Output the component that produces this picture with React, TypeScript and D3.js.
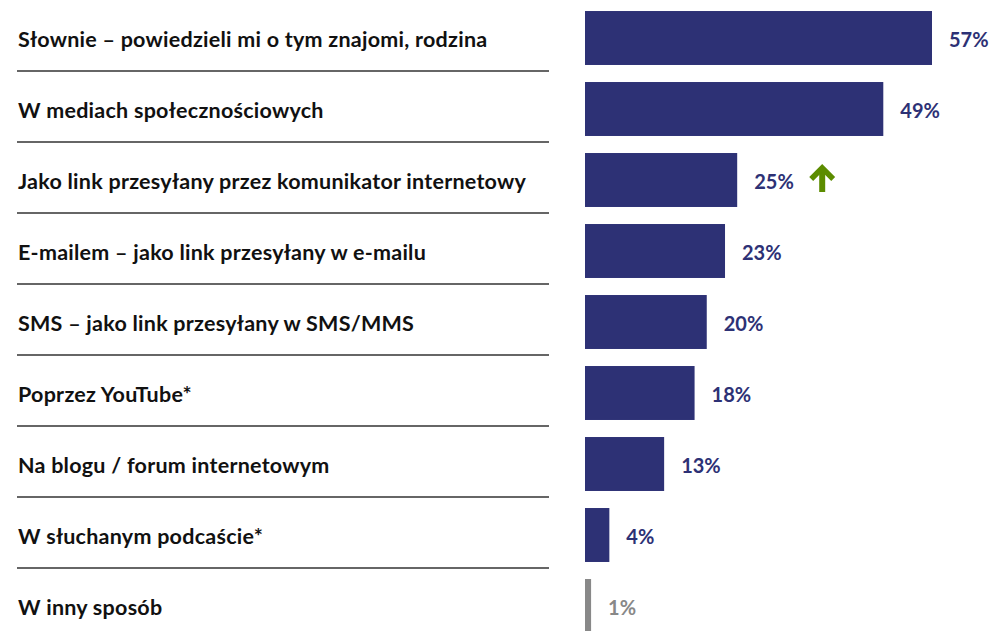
import React from "react";
import * as d3 from "d3";

const categories = [
  "Słownie – powiedzieli mi o tym znajomi, rodzina",
  "W mediach społecznościowych",
  "Jako link przesyłany przez komunikator internetowy",
  "E-mailem – jako link przesyłany w e-mailu",
  "SMS – jako link przesyłany w SMS/MMS",
  "Poprzez YouTube*",
  "Na blogu / forum internetowym",
  "W słuchanym podcaście*",
  "W inny sposób",
];
const values = [57, 49, 25, 23, 20, 18, 13, 4, 1];
const highlighted = [false, false, true, false, false, false, false, false, false];
const muted = [false, false, false, false, false, false, false, false, true];

const W = 992;
const H = 631;
const NAVY = "#2d3175";
const GRAY = "#888888";
const GREEN = "#5c8c00";
const FONT = "Lato, 'Open Sans', sans-serif";

export default function App() {
  const x = d3.scaleLinear().domain([0, 57]).range([585, 932]);
  const y = d3
    .scaleBand<string>()
    .domain(categories)
    .range([2.5, 641.5])
    .paddingInner(0.24)
    .paddingOuter(0.12);
  const bw = y.bandwidth();
  const step = y.step();

  return (
    <svg
      width={W}
      height={H}
      style={{ position: "absolute", left: 0, top: 0, background: "#fff" }}
      fontFamily={FONT}
    >
      {categories.map((c, i) => {
        const top = y(c)!;
        const cy = top + bw / 2;
        const v = values[i];
        const col = muted[i] ? GRAY : NAVY;
        const xe = x(v);
        return (
          <g key={c}>
            <text
              x={18}
              y={cy + 8.5}
              fontSize={21.5}
              letterSpacing={0.25}
              fontWeight={700}
              fill="#111"
            >
              {c}
            </text>
            {i < categories.length - 1 && (
              <line
                x1={17}
                x2={549}
                y1={cy + step / 2 - 2.5}
                y2={cy + step / 2 - 2.5}
                stroke="#333"
                strokeWidth={1.5}
              />
            )}
            <rect x={x(0)} y={top} width={xe - x(0)} height={bw} fill={col} />
            <text x={xe + 17} y={cy + 9} fontSize={20} fontWeight={700} fill={col}>
              {v}%
            </text>
            {highlighted[i] && (
              <g stroke={GREEN} fill="none">
                <line x1={xe + 85} x2={xe + 85} y1={cy - 12} y2={cy + 12} strokeWidth={6} />
                <polyline
                  points={`${xe + 74},${cy - 1} ${xe + 85},${cy - 12} ${xe + 96},${cy - 1}`}
                  strokeWidth={5.5}
                  strokeLinecap="butt"
                  strokeLinejoin="miter"
                />
              </g>
            )}
          </g>
        );
      })}
    </svg>
  );
}
